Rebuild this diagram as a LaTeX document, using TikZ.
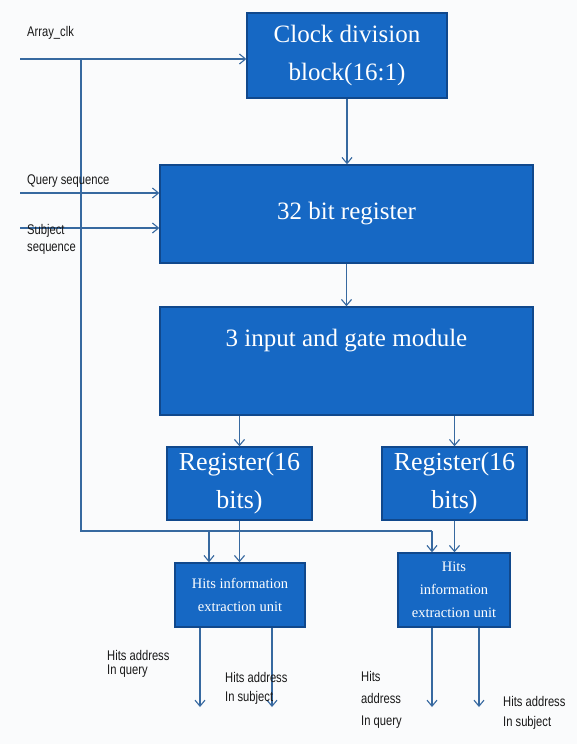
\documentclass[tikz,border=0pt]{standalone}
\usepackage{fontspec}
\setmainfont{Liberation Serif}
\newfontfamily\labfont[FakeStretch=0.8]{Liberation Sans}
\usetikzlibrary{arrows.meta,calc}
\definecolor{boxfill}{RGB}{22,104,196}
\definecolor{boxedge}{RGB}{16,72,140}
\definecolor{wire}{RGB}{55,105,160}
\definecolor{bg}{RGB}{250,251,252}
\tikzset{
  blk/.style={draw=boxedge, line width=1.4pt, fill=boxfill, text=white, align=center, inner sep=0pt},
  bigtxt/.style={font=\fontsize{25}{38}\selectfont},
  regtxt/.style={font=\fontsize{26}{38}\selectfont},
  hittxt/.style={font=\fontsize{14.5}{23}\selectfont},
  wirearrow/.style={draw=wire, line width=1.1pt, -{Straight Barb[length=6pt,width=10pt]}},
  wireline/.style={draw=wire, line width=1.1pt},
  lab/.style={font=\labfont\fontsize{14}{14}\selectfont, text=black!90, align=left, inner sep=0pt, anchor=west}
}
\begin{document}
\begin{tikzpicture}[x=1pt,y=-1pt]
\path[fill=bg] (0,0) rectangle (577,744);
\useasboundingbox (0,0) rectangle (577,744);

% blocks
\node[blk, bigtxt, minimum width=200pt, minimum height=85pt] (clock) at (347,55.5) {Clock division\\block(16:1)};
\node[blk, bigtxt, minimum width=373pt, minimum height=98pt] (reg32) at (346.5,214) {32 bit register};
\node[blk, minimum width=373pt, minimum height=108pt,
  label={[bigtxt, text=white, yshift=20pt]center:3 input and gate module}] (gate) at (346.5,361) {};
\node[blk, regtxt, minimum width=145pt, minimum height=73pt] (regL) at (239.5,483.5) {Register(16\\bits)};
\node[blk, regtxt, minimum width=145pt, minimum height=73pt] (regR) at (454.5,483.5) {Register(16\\bits)};
\node[blk, hittxt, minimum width=130pt, minimum height=64pt] (hitsL) at (240,595) {Hits information\\extraction unit};
\node[blk, hittxt, minimum width=112pt, minimum height=74pt] (hitsR) at (454,590) {Hits\\information\\extraction unit};

% inputs
\coordinate (clkin) at (20,59);
\coordinate (qin) at (20,193);
\coordinate (sin) at (20,228);
\coordinate (clkturn) at (81,59);
\coordinate (clkdown) at (81,531);
\coordinate (clkend) at (432,531);
\coordinate (clkbr) at (209,531);

\draw[wirearrow] (clkin) -- (clkin -| clock.west);
\draw[wireline] (clkturn) -- (clkdown) -- (clkend);
\draw[wirearrow] (clkend) -- (clkend |- hitsR.north);
\draw[wirearrow] (clkbr) -- (clkbr |- hitsL.north);
\draw[wirearrow] (qin) -- (qin -| reg32.west);
\draw[wirearrow] (sin) -- (sin -| reg32.west);

% chain
\draw[wirearrow] (clock.south) -- (clock.south |- reg32.north);
\draw[wirearrow] (reg32.south) -- (reg32.south |- gate.north);
\draw[wirearrow] (gate.south -| regL.north) -- (regL.north);
\draw[wirearrow] (gate.south -| regR.north) -- (regR.north);
\draw[wirearrow] (regL.south) -- (regL.south |- hitsL.north);
\draw[wirearrow] (regR.south) -- (regR.south |- hitsR.north);

% outputs
\coordinate (oLq) at (200,707);
\coordinate (oLs) at (272,707);
\coordinate (oRq) at (432,707);
\coordinate (oRs) at (479,707);
\draw[wirearrow] (hitsL.south -| oLq) -- (oLq);
\draw[wirearrow] (hitsL.south -| oLs) -- (oLs);
\draw[wirearrow] (hitsR.south -| oRq) -- (oRq);
\draw[wirearrow] (hitsR.south -| oRs) -- (oRs);

% labels
\node[lab] (lclk) at (27,33) {Array\_clk};
\node[lab] (lq) at (27,181) {Query sequence};
\node[lab, font=\labfont\fontsize{14}{17}\selectfont] (ls) at (27,239) {Subject\\sequence};
\node[lab] (lLq) at (107,664) {Hits address\\In query};
\node[lab, font=\labfont\fontsize{14}{19}\selectfont] (lLs) at (225,688) {Hits address\\In subject};
\node[lab, font=\labfont\fontsize{14}{22}\selectfont] (lRq) at (361,700) {Hits\\address\\In query};
\node[lab, font=\labfont\fontsize{14}{20}\selectfont] (lRs) at (503,713) {Hits address\\In subject};
\end{tikzpicture}
\end{document}
